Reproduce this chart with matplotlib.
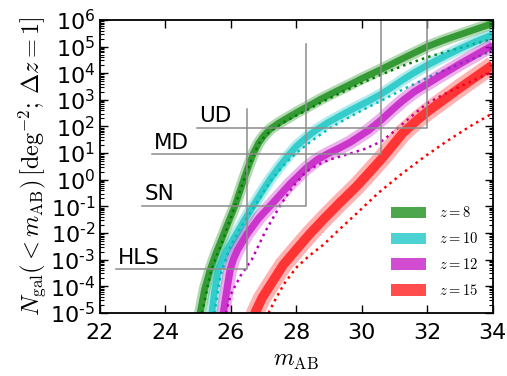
import numpy as np
import matplotlib
matplotlib.use('Agg')
import matplotlib.pyplot as plt
from matplotlib.patches import Patch
from matplotlib.ticker import FixedLocator, FixedFormatter, LogLocator, NullFormatter

# cumulative counts, log10 N per deg^2 per unit z
m_z8 = [25.00, 25.06, 25.20, 25.37, 25.55, 25.73, 25.93, 26.13, 26.38, 26.55, 26.70, 26.85, 27.00, 27.20, 27.45,
        27.70, 28.00, 28.30, 28.75, 29.20, 29.60, 30.00, 30.60, 31.30, 32.00, 32.50, 33.00, 33.50, 34.00]
n_z8 = [-5.5, -5.0, -4.1, -3.37, -2.75, -2.2, -1.58, -0.97, -0.05, 0.55, 1.02, 1.38, 1.64, 1.9, 2.12,
        2.3, 2.52, 2.72, 3.03, 3.31, 3.55, 3.8, 4.15, 4.58, 5.0, 5.24, 5.45, 5.66, 5.87]
m_z8_dot = [25.05, 25.12, 25.40, 25.75, 26.12, 26.40, 26.66, 26.90, 27.20, 27.70, 28.30, 28.75, 29.20, 29.90,
            30.60, 31.30, 32.00, 33.00, 34.00]
n_z8_dot = [-5.5, -5.0, -3.4, -2.3, -1.0, 0.0, 0.85, 1.45, 1.82, 2.22, 2.6, 2.9, 3.17, 3.58, 3.95, 4.3, 4.6, 4.95, 5.3]

m_z10 = [25.36, 25.42, 25.50, 25.62, 25.85, 26.13, 26.40, 26.69, 26.95, 27.20, 27.50, 27.76, 28.00, 28.30, 28.60,
         29.00, 29.64, 30.20, 30.60, 30.95, 31.25, 31.60, 32.00, 32.50, 33.00, 33.50, 34.00]
n_z10 = [-5.5, -5.0, -4.2, -3.37, -2.7, -2.12, -1.55, -0.97, -0.45, 0.02, 0.52, 0.92, 1.25, 1.58, 1.86,
         2.17, 2.6, 2.95, 3.22, 3.5, 3.75, 4.02, 4.3, 4.62, 4.92, 5.2, 5.45]
m_z10_dot = [25.42, 25.50, 25.68, 25.95, 26.25, 26.75, 27.05, 27.30, 27.55, 27.80, 28.05, 28.30, 28.65, 29.03, 29.40,
             29.80, 30.20, 30.60, 31.30, 32.08, 32.50, 33.00, 33.50, 34.00]
n_z10_dot = [-5.5, -5.0, -3.6, -2.6, -1.9, -0.95, -0.35, 0.08, 0.45, 0.78, 1.05, 1.3, 1.62, 1.94, 2.2,
             2.47, 2.73, 2.97, 3.42, 3.87, 4.1, 4.35, 4.6, 4.85]

m_z12 = [25.70, 25.77, 25.87, 25.98, 26.08, 26.20, 26.49, 26.85, 27.30, 27.80, 28.30, 28.65, 29.00, 29.30, 29.64,
         30.20, 30.60, 30.95, 31.26, 31.60, 32.00, 32.50, 33.00, 33.50, 34.00]
n_z12 = [-5.5, -5.0, -4.2, -3.37, -2.98, -2.65, -2.05, -1.45, -0.85, -0.17, 0.43, 0.76, 1.0, 1.18, 1.4,
         1.85, 2.25, 2.65, 2.98, 3.3, 3.6, 3.98, 4.35, 4.7, 5.05]
m_z12_dot = [25.78, 25.85, 26.00, 26.30, 26.64, 27.05, 27.50, 27.90, 28.30, 28.65, 29.03, 29.64, 30.10, 30.60,
             30.95, 31.30, 31.65, 32.00, 32.50, 33.00, 33.50, 34.00]
n_z12_dot = [-5.5, -5.0, -4.3, -3.6, -3.0, -1.95, -0.98, -0.25, 0.3, 0.56, 0.76, 0.98, 1.16, 1.44, 1.78,
             2.15, 2.52, 2.87, 3.2, 3.5, 3.78, 4.05]

m_z15 = [26.68, 26.74, 26.95, 27.25, 27.60, 28.00, 28.40, 28.82, 29.30, 29.84, 30.25, 30.60, 30.95, 31.25, 31.70,
         32.00, 32.50, 33.00, 33.50, 34.00]
n_z15 = [-5.5, -5.0, -4.45, -3.87, -3.2, -2.62, -2.05, -1.5, -0.9, -0.25, 0.3, 0.78, 1.3, 1.75, 2.25,
         2.55, 3.0, 3.45, 3.88, 4.31]
m_z15_dot = [27.10, 27.15, 27.40, 27.65, 28.00, 28.40, 28.82, 29.33, 29.90, 30.50, 31.20, 31.90, 32.60, 33.30, 34.00]
n_z15_dot = [-5.5, -5.0, -4.4, -3.87, -3.3, -2.85, -2.45, -1.85, -1.2, -0.5, 0.2, 0.85, 1.45, 2.0, 2.5]

redshifts = [8, 10, 12, 15]
colors = ['g', 'c', 'm', 'r']

# survey depths: label, start of line, limiting mag, 1/area level, top of vertical line
surveys = ['UD', 'MD', 'SN', 'HLS']
survey_start = [24.97, 23.59, 23.29, 22.49]
survey_mlim = [32.0, 30.6, 28.3, 26.5]
survey_n = [90.0, 9.1, 0.106, 4.3e-4]
survey_top = [1e7, 1e7, 1.2e5, 460.0]

yticks = [1e-5, 1e-4, 1e-3, 1e-2, 1e-1, 1e0, 1e1, 1e2, 1e3, 1e4, 1e5, 1e6]
ytick_labels = [r'$10^{\text{-5}}$', r'$10^{\text{-4}}$', r'$10^{\text{-3}}$', r'$10^{\text{-2}}$',
                r'$10^{\text{-1}}$', r'$10^{0}$', r'$10^{1}$', r'$10^{2}$', r'$10^{3}$',
                r'$10^{4}$', r'$10^{5}$', r'$10^{6}$']

bands = [(m_z8, n_z8, m_z8_dot, n_z8_dot, 4.8, 8.5),
         (m_z10, n_z10, m_z10_dot, n_z10_dot, 4.8, 8.5),
         (m_z12, n_z12, m_z12_dot, n_z12_dot, 5.2, 10.0),
         (m_z15, n_z15, m_z15_dot, n_z15_dot, 6.8, 13.0)]

fig = plt.figure(figsize=(5.07, 3.76), dpi=100)
ax = fig.add_axes([0.197, 0.168, 0.775, 0.779])

for (m, n, md, nd, w_dark, w_light), c in zip(bands, colors):
    ax.plot(m, 10**np.array(n), color=c, alpha=0.3, lw=w_light, solid_capstyle='butt')
    ax.plot(m, 10**np.array(n), color=c, alpha=0.7, lw=w_dark, solid_capstyle='butt')
    ax.plot(md, 10**np.array(nd), color=c, ls=':', lw=1.8)

for lab, m0, ml, nn, top in zip(surveys, survey_start, survey_mlim, survey_n, survey_top):
    ax.plot([m0, ml, ml], [nn, nn, top], color='0.55', lw=1.1)
    ax.annotate(lab, (m0, nn), xytext=(1.5, 4), textcoords='offset points',
                fontsize=15.5, va='baseline', ha='left')

ax.set_yscale('log')
ax.set_xlim(22, 34)
ax.set_ylim(1e-5, 1e6)
ax.set_xticks(np.arange(22, 35, 2))
ax.yaxis.set_major_locator(FixedLocator(yticks))
ax.yaxis.set_major_formatter(FixedFormatter(ytick_labels))
ax.yaxis.set_minor_locator(LogLocator(base=10, subs=np.arange(2, 10), numticks=20))
ax.yaxis.set_minor_formatter(NullFormatter())
ax.tick_params(which='both', direction='in', top=True, right=True, labelsize=16)
ax.tick_params(which='major', length=6, width=1)
ax.tick_params(which='minor', length=3, width=0.8)
ax.tick_params(axis='x', pad=7)
for s in ax.spines.values():
    s.set_linewidth(1.3)

ax.set_xlabel(r'$m_{\rm AB}$', fontsize=17, math_fontfamily='cm', labelpad=4)
ax.set_ylabel(r'$N_{\rm gal}(<m_{\rm AB})\,[{\rm deg}^{-2};\,\Delta z=1]$', fontsize=17.5,
              math_fontfamily='cm', labelpad=1)

handles = [Patch(facecolor=c, alpha=0.7, edgecolor='none') for c in colors]
labels = [r'$z=%d$' % z for z in redshifts]
leg = ax.legend(handles, labels, loc='lower right', frameon=False, fontsize=10.5,
                handlelength=2.4, handleheight=0.85, handletextpad=0.9, labelspacing=0.75,
                borderaxespad=0.6)
for t in leg.get_texts():
    t.set_math_fontfamily('cm')

fig.savefig('out.png', dpi=100)
